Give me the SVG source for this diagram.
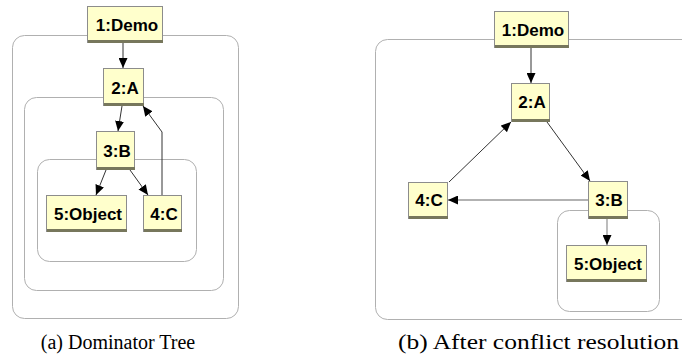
<svg xmlns="http://www.w3.org/2000/svg" width="682" height="360" viewBox="0 0 682 360">
<style>
.bg{fill:#ffffff}
.cont{fill:none;stroke:#b0b0b0;stroke-width:1}
.box{fill:#ffffcc;stroke:#8c8c8c;stroke-width:1}
.shadow{fill:#77775c}
.lbl{font-family:"Liberation Sans",Arial,sans-serif;font-weight:bold;font-size:17px;fill:#000;text-anchor:middle}
.edge{fill:none;stroke:#333;stroke-width:1}
.edge-g{fill:none;stroke:#999;stroke-width:1.3}
.cap{font-family:"Liberation Serif","DejaVu Serif",serif;font-size:20px;fill:#000}
</style>
<defs>
<marker id="arr" markerUnits="userSpaceOnUse" markerWidth="10" markerHeight="9" refX="10" refY="4.5" orient="auto" viewBox="0 0 10 9">
<path d="M0,0 L10,4.5 L0,9 z" fill="#000"/>
</marker>
</defs>
<rect class="bg" x="0" y="0" width="682" height="360"/>

<g id="containers-a">
<rect class="cont" x="12.5" y="35.5" width="226" height="283" rx="12"/>
<rect class="cont" x="24.5" y="97.5" width="199" height="193" rx="12"/>
<rect class="cont" x="37.5" y="159.5" width="159" height="102" rx="12"/>
</g>
<g id="containers-b">
<rect class="cont" x="375.5" y="39.5" width="330" height="280" rx="12"/>
<rect class="cont" x="557.5" y="210.5" width="102" height="101" rx="12"/>
</g>

<g id="connectors">
<line class="edge" x1="123" y1="43" x2="123" y2="68" marker-end="url(#arr)"/>
<line class="edge" x1="122" y1="106" x2="118" y2="131" marker-end="url(#arr)"/>
<polyline class="edge" points="162,195 162,132 143,106" marker-end="url(#arr)"/>
<line class="edge" x1="106" y1="170" x2="96" y2="195" marker-end="url(#arr)"/>
<line class="edge" x1="130" y1="170" x2="148" y2="195" marker-end="url(#arr)"/>
<line class="edge" x1="531" y1="48" x2="531" y2="83" marker-end="url(#arr)"/>
<line class="edge" x1="449" y1="182" x2="511" y2="122" marker-end="url(#arr)"/>
<line class="edge" x1="547" y1="122" x2="590" y2="181" marker-end="url(#arr)"/>
<line class="edge-g" x1="588" y1="200" x2="448" y2="200" marker-end="url(#arr)"/>
<line class="edge-g" x1="607" y1="219" x2="607" y2="245" marker-end="url(#arr)"/>
</g>

<g id="a-demo"><rect class="box" x="87.5" y="6.5" width="75" height="36"/><rect class="shadow" x="88" y="40" width="75" height="3"/><text class="lbl" x="127" y="31">1:Demo</text></g>
<g id="a-A"><rect class="box" x="103.5" y="68.5" width="40" height="37"/><rect class="shadow" x="104" y="103" width="40" height="3"/><text class="lbl" x="125" y="94">2:A</text></g>
<g id="a-B"><rect class="box" x="96.5" y="131.5" width="38" height="38"/><rect class="shadow" x="97" y="167" width="38" height="3"/><text class="lbl" x="117" y="157">3:B</text></g>
<g id="a-Object"><rect class="box" x="46.5" y="195.5" width="80" height="36"/><rect class="shadow" x="47" y="229" width="80" height="3"/><text class="lbl" x="88" y="220">5:Object</text></g>
<g id="a-C"><rect class="box" x="143.5" y="195.5" width="38" height="36"/><rect class="shadow" x="144" y="229" width="38" height="3"/><text class="lbl" x="164" y="220">4:C</text></g>

<g id="b-demo"><rect class="box" x="494.5" y="11.5" width="74" height="36"/><rect class="shadow" x="495" y="45" width="74" height="3"/><text class="lbl" x="533" y="36">1:Demo</text></g>
<g id="b-A"><rect class="box" x="511.5" y="83.5" width="38" height="38"/><rect class="shadow" x="512" y="119" width="38" height="3"/><text class="lbl" x="532" y="108">2:A</text></g>
<g id="b-C"><rect class="box" x="408.5" y="182.5" width="39" height="36"/><rect class="shadow" x="409" y="216" width="39" height="3"/><text class="lbl" x="429" y="206">4:C</text></g>
<g id="b-B"><rect class="box" x="588.5" y="181.5" width="39" height="37"/><rect class="shadow" x="589" y="216" width="39" height="3"/><text class="lbl" x="609" y="206">3:B</text></g>
<g id="b-Object"><rect class="box" x="566.5" y="245.5" width="80" height="36"/><rect class="shadow" x="567" y="279" width="80" height="3"/><text class="lbl" x="608" y="270">5:Object</text></g>

<text class="cap" x="118" y="349" text-anchor="middle">(a) Dominator Tree</text>
<text class="cap" x="398" y="349" textLength="281" lengthAdjust="spacingAndGlyphs">(b) After conflict resolution</text>
</svg>
